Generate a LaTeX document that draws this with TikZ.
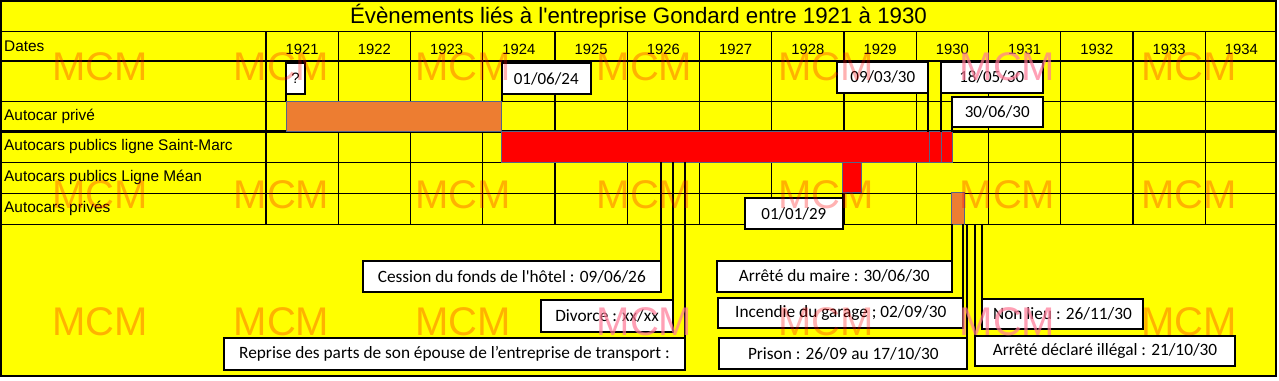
\documentclass[tikz,border=0pt]{standalone}
\usepackage{fontspec}
\setmainfont{Liberation Sans}
\newfontfamily\calfont{Carlito}
\definecolor{xlyellow}{RGB}{255,255,0}
\definecolor{xlorange}{RGB}{237,125,49}
\definecolor{xlred}{RGB}{255,0,0}
\definecolor{barline}{RGB}{85,100,135}
\definecolor{wmsalmon}{RGB}{255,120,150}
\begin{document}
\begin{tikzpicture}[x=1pt,y=-1pt,
  thingrid/.style={line width=1pt},
  thickgrid/.style={line width=2.5pt},
  barbox/.style={draw=barline, line width=0.8pt, inner sep=0pt, outer sep=0pt, anchor=north west},
  datebox/.style={draw, fill=white, line width=2pt, inner sep=0pt, outer sep=0pt, anchor=north west,
    font=\calfont\fontsize{17}{20}\selectfont},
  lbox/.style={draw, fill=white, line width=2pt, inner sep=0pt, outer sep=0pt, anchor=north west,
    font=\calfont\fontsize{17.3}{20}\selectfont},
  conn/.style={line width=2pt},
  rowlabel/.style={anchor=west, inner sep=0pt, font=\fontsize{15.4}{18}\selectfont},
  yearlabel/.style={inner sep=0pt, font=\fontsize{14.8}{17}\selectfont},
  wm/.style={inner sep=0pt, font=\fontsize{40}{44}\selectfont, text=red, text opacity=0.3},
  wmb/.style={inner sep=0pt, font=\fontsize{40}{44}\selectfont, text=wmsalmon, text opacity=0.7}
]
\useasboundingbox (0,0) rectangle (1279,380);
\fill[white] (0,0) rectangle (1279,380);
\fill[xlyellow] (1,1) rectangle (1276,376);

% horizontal grid
\draw[thingrid] (1,31.7) -- (1276,31.7);
\draw[thickgrid] (1,61) -- (1276,61);
\draw[thingrid] (1,101) -- (1276,101);
\draw[thickgrid] (1,131.5) -- (1276,131.5);
\draw[thingrid] (1,162.5) -- (1276,162.5);
\draw[thingrid] (1,193) -- (1276,193);
\draw[thingrid] (1,224) -- (1276,224);
% vertical grid
\foreach \k in {1,2,3,5,6,7,9,10,11,13}{
  \draw[thingrid] (266+\k*72.25,31.7) -- (266+\k*72.25,224);
}
\foreach \k in {0,4,8,12}{
  \draw[thickgrid] (266+\k*72.25,31.7) -- (266+\k*72.25,224);
}
\draw[line width=2.5pt] (1,1) rectangle (1276,376);

% title
\node[inner sep=0pt, font=\fontsize{22.3}{25}\selectfont] (title) at (638.5,16)
  {Évènements liés à l\textquotesingle entreprise Gondard entre 1921 à 1930};

% row labels
\node[rowlabel] (lDates) at (4,46) {Dates};
\node[rowlabel] (lPrive) at (4,116) {Autocar privé};
\node[rowlabel] (lSM) at (4,147) {Autocars publics ligne Saint-Marc};
\node[rowlabel] (lMean) at (4,177.5) {Autocars publics Ligne Méan};
\node[rowlabel] (lPrives) at (4,208) {Autocars privés};

% years
\foreach \k in {0,...,13}{
  \pgfmathtruncatemacro\yr{1921+\k}
  \node[yearlabel] (y\k) at (302.1+\k*72.25,49.5) {\yr};
}

% bars
\node[barbox, fill=xlorange, minimum width=215, minimum height=30.5] (b1) at (286,101) {};
\node[barbox, fill=xlred, minimum width=428, minimum height=30.8] (b2) at (501,131.5) {};
\node[barbox, fill=xlred, minimum width=12.7, minimum height=30.8] (b3) at (929,131.5) {};
\node[barbox, fill=xlred, minimum width=10.6, minimum height=30.8] (b4) at (941.7,131.5) {};
\node[barbox, fill=xlred, minimum width=18.7, minimum height=30.4] (b5) at (842.3,162.3) {};
\node[barbox, fill=xlorange, minimum width=13.3, minimum height=31.3] (b6) at (951,192.7) {};

% date boxes
\node[datebox, font=\fontsize{15}{18}\selectfont, minimum width=19, minimum height=31] (q) at (286,63) {?};
\node[datebox, minimum width=89, minimum height=31] (d1) at (501.7,63) {01/06/24};
\node[datebox, minimum width=91, minimum height=31] (d2) at (837.3,61.7) {09/03/30};
\node[datebox, minimum width=102, minimum height=31] (d3) at (940.7,61.7) {18/05/30};
\node[datebox, minimum width=91, minimum height=30.6] (d4) at (951.7,96.7) {30/06/30};
\node[datebox, minimum width=97.7, minimum height=31] (d5) at (745,198.3) {01/01/29};

% connectors of date boxes
\draw[conn] (q.south west) -- (b1.north west);
\draw[conn] (d1.south west) -- (d1.south west |- b1.north);
\draw[conn] (d2.south east) -- (d2.south east |- b2.north);
\draw[conn] (d3.south west) -- (d3.south west |- b4.north);
\draw[conn] (d4.south west) -- (d4.south west |- b4.north);
\draw[conn] (d5.north east) -- (d5.north east |- b5.south);

% bottom label boxes
\node[lbox, minimum width=298.3, minimum height=31.6] (c1) at (362.7,260.7) {Cession du fonds de l\textquotesingle hôtel : 09/06/26};
\node[lbox, minimum width=131.4, minimum height=32.3] (c2) at (541.3,300) {Divorce : xx/xx};
\node[lbox, minimum width=461, minimum height=31.7] (c3) at (224,338.3) {Reprise des parts de son épouse de l’entreprise de transport :};
\node[lbox, minimum width=235, minimum height=30.7] (e1) at (716.7,261) {Arrêté du maire : 30/06/30};
\node[lbox, minimum width=245, minimum height=30] (e2) at (718.3,298.3) {Incendie du garage ; 02/09/30};
\node[lbox, minimum width=248, minimum height=30.7] (e3) at (719.3,338.3) {Prison : 26/09 au 17/10/30};
\node[lbox, minimum width=161.6, minimum height=30.3] (e5) at (981.7,299) {Non lieu : 26/11/30};
\node[lbox, minimum width=260, minimum height=30] (e4) at (975,336) {Arrêté déclaré illégal : 21/10/30};

% connectors of bottom boxes
\draw[conn] (c1.north east) -- (c1.north east |- b2.south);
\draw[conn] (c2.north east) -- (c2.north east |- b2.south);
\draw[conn] (c3.north east) -- (c3.north east |- b2.south);
\draw[conn] (e1.north east) -- (e1.north east |- b6.south);
\draw[conn] (e2.north east) -- (e2.north east |- b6.south);
\draw[conn] (e3.north east) -- (e3.north east |- b6.south);
\draw[conn] (e4.north west) -- (e4.north west |- b6.south);
\draw[conn] (e5.north west) -- (e5.north west |- b6.south);

% watermarks
\foreach \i/\xx in {1/100,2/281.5,3/463,4/644.5,5/826,7/1189}{
  \node[wm] (wa\i) at (\xx,67) {MCM};
}
\node[wmb] (wa6) at (1007.5,67) {MCM};
\foreach \i/\xx in {1/100,2/281.5,3/463,4/644.5,5/826,6/1007.5,7/1189}{
  \node[wm] (wb\i) at (\xx,195) {MCM};
}
\foreach \i/\xx in {1/100,2/281.5,3/463,5/826,7/1189}{
  \node[wm] (wc\i) at (\xx,321.5) {MCM};
}
\node[wmb] (wc4) at (644.5,321.5) {MCM};
\node[wmb] (wc6) at (1007.5,321.5) {MCM};
\end{tikzpicture}
\end{document}
